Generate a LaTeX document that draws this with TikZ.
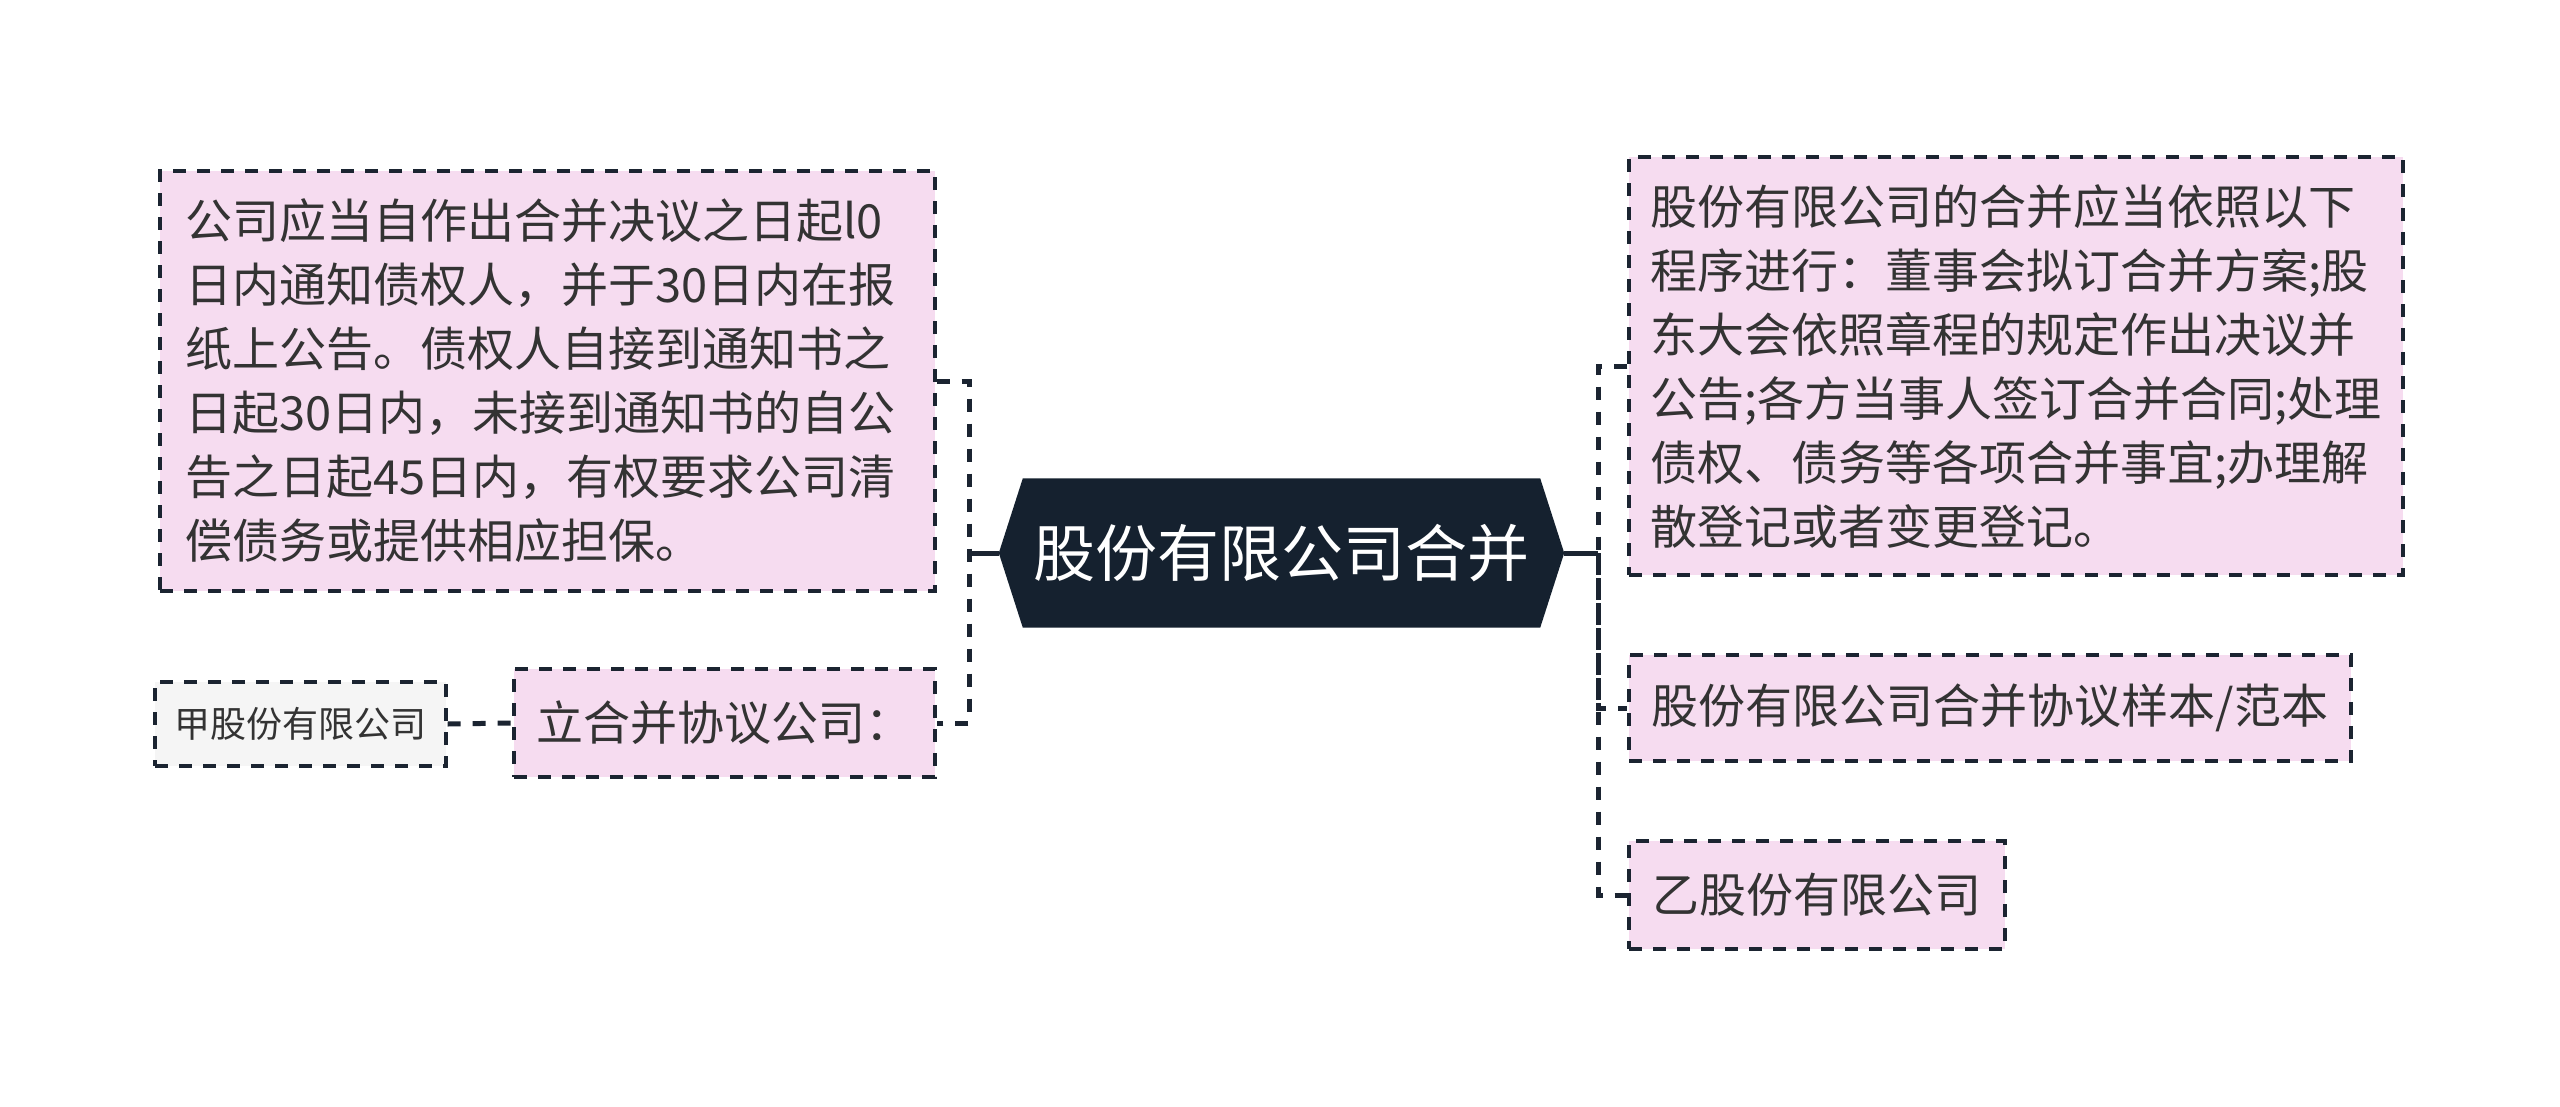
\documentclass[tikz,border=0pt]{standalone}
\usepackage{fontspec}
\setmainfont{Noto Sans CJK SC}
\usetikzlibrary{backgrounds}
\definecolor{pinkfill}{HTML}{F6DCF0}
\definecolor{grayfill}{HTML}{F5F5F5}
\definecolor{navy}{HTML}{15212F}
\definecolor{txt}{HTML}{333333}
\definecolor{edge}{HTML}{1B2431}
\tikzset{
  box/.style={draw=edge, line width=3.2pt, dash pattern=on 13pt off 11pt, fill=pinkfill,
    text=txt, font=\fontsize{47pt}{64pt}\selectfont, inner sep=0pt},
  bigbox/.style={box, align=left, inner xsep=25pt, inner ysep=0pt},
  smallbox/.style={box, fill=grayfill, font=\fontsize{36pt}{44pt}\selectfont},
  rootnode/.style={text=white, font=\fontsize{62pt}{70pt}\selectfont, inner sep=0pt,
    minimum width=565pt, minimum height=149pt},
  conn/.style={draw=edge, line width=5pt, dash pattern=on 13pt off 12pt},
  trunk/.style={draw=edge, line width=5pt},
}
\begin{document}
\begin{tikzpicture}[x=1pt,y=-1pt]
\useasboundingbox (0,0) rectangle (2560,1106);

% root
\node[rootnode] (root) at (1281.5,553) {股份有限公司合并};
\begin{scope}[on background layer]
\fill[white] (0,0) rectangle (2560,1106);
\fill[navy] (root.west) -- ([xshift=24pt]root.north west) -- ([xshift=-24pt]root.north east)
  -- (root.east) -- ([xshift=-24pt]root.south east) -- ([xshift=24pt]root.south west) -- cycle;
\end{scope}

% left
\node[bigbox, text width=725pt, minimum height=420pt] (l1) at (547.5,381)
 {公司应当自作出合并决议之日起l0\\日内通知债权人，并于30日内在报\\纸上公告。债权人自接到通知书之\\日起30日内，未接到通知书的自公\\告之日起45日内，有权要求公司清\\偿债务或提供相应担保。};
\node[box, minimum width=421pt, minimum height=108pt] (l2) at (724.5,723) {立合并协议公司：};
\node[smallbox, minimum width=291pt, minimum height=84pt] (l3) at (300.5,724) {甲股份有限公司};

% right
\node[bigbox, text width=732pt, inner xsep=21pt, minimum height=418pt] (r1) at (2016,366)
 {股份有限公司的合并应当依照以下\\程序进行：董事会拟订合并方案;股\\东大会依照章程的规定作出决议并\\公告;各方当事人签订合并合同;处理\\债权、债务等各项合并事宜;办理解\\散登记或者变更登记。};
\node[box, minimum width=722pt, minimum height=106pt] (r2) at (1990,708) {股份有限公司合并协议样本/范本};
\node[box, minimum width=376pt, minimum height=108pt] (r3) at (1817,895) {乙股份有限公司};

% buses
\coordinate (lbus) at (969,553);
\coordinate (rbus) at (1598,553);

\draw[trunk] (root.west) -- (lbus);
\draw[trunk] (root.east) -- (rbus);
\draw[conn] (l1.east) -| (lbus) |- (l2.east);
\draw[conn] (l3.east) -- (l2.west);
\draw[conn] (r1.west) -| (rbus) |- (r3.west);
\draw[conn] (rbus) |- (r2.west);
\end{tikzpicture}
\end{document}
